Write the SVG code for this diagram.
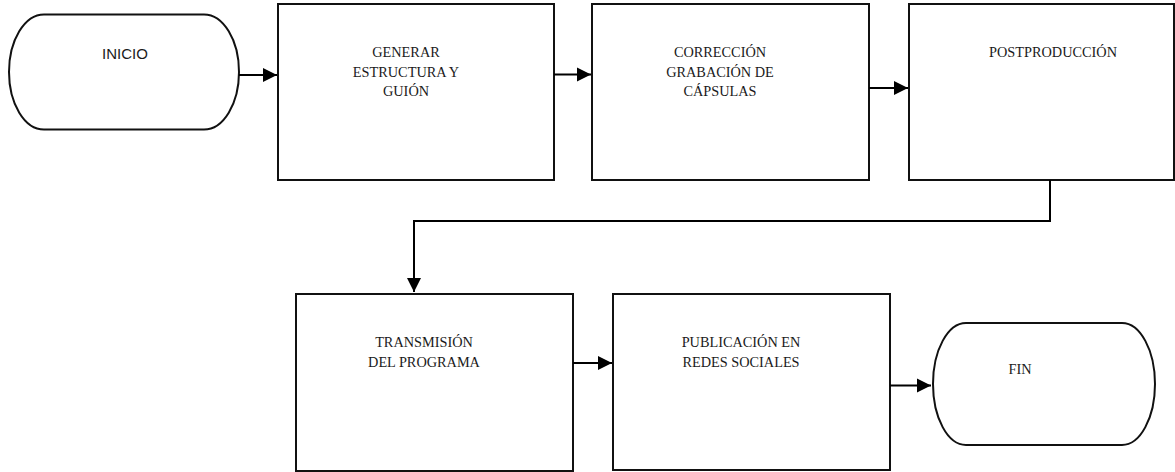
<svg xmlns="http://www.w3.org/2000/svg" width="1175" height="472" viewBox="0 0 1175 472">
<defs>
<marker id="arr" markerWidth="8" markerHeight="8" refX="7" refY="4" orient="auto" markerUnits="strokeWidth">
<path d="M0,0.5 L7,4 L0,7.5 Z" fill="#000"/>
</marker>
<style>
.box{fill:#fff;stroke:#111;stroke-width:2}
.term{fill:#fff;stroke:#111;stroke-width:2}
.lbl{font-family:"Liberation Serif","Times New Roman",serif;font-size:14.3px;fill:#1a1a1a;text-anchor:middle}
.sans{font-family:"Liberation Sans",Arial,sans-serif;font-size:15px;fill:#1a1a1a;text-anchor:middle}
.con{fill:none;stroke:#000;stroke-width:2;marker-end:url(#arr)}
</style>
</defs>
<rect width="1175" height="472" fill="#fff"/>
<g id="inicio">
<path class="term" d="M44,14.5 H204 A35,57.5 0 0 1 204,129.5 H44 A35,57.5 0 0 1 44,14.5 Z"/>
<text class="sans" x="125" y="59">INICIO</text>
</g>
<g id="generar">
<rect class="box" x="278" y="4" width="276" height="176"/>
<text class="lbl" x="406" y="57">GENERAR</text>
<text class="lbl" x="406" y="77">ESTRUCTURA Y</text>
<text class="lbl" x="406" y="96">GUIÓN</text>
</g>
<g id="correccion">
<rect class="box" x="592" y="4" width="277" height="176"/>
<text class="lbl" x="720" y="57">CORRECCIÓN</text>
<text class="lbl" x="720" y="77">GRABACIÓN DE</text>
<text class="lbl" x="720" y="96">CÁPSULAS</text>
</g>
<g id="postproduccion">
<rect class="box" x="909" y="4" width="265" height="176"/>
<text class="lbl" x="1053" y="57">POSTPRODUCCIÓN</text>
</g>
<g id="transmision">
<rect class="box" x="296" y="294" width="277" height="177"/>
<text class="lbl" x="424" y="347">TRANSMISIÓN</text>
<text class="lbl" x="424" y="367">DEL PROGRAMA</text>
</g>
<g id="publicacion">
<rect class="box" x="613" y="294" width="277" height="176"/>
<text class="lbl" x="741" y="347">PUBLICACIÓN EN</text>
<text class="lbl" x="741" y="367">REDES SOCIALES</text>
</g>
<g id="fin">
<path class="term" d="M966,323 H1122 A33,61 0 0 1 1122,445 H966 A33,61 0 0 1 966,323 Z"/>
<text class="lbl" x="1020" y="374">FIN</text>
</g>
<g id="connectors">
<path class="con" d="M239,75 H277"/>
<path class="con" d="M554,74.5 H591"/>
<path class="con" d="M869,88 H908"/>
<path class="con" d="M1050,180 V221 H414 V292"/>
<path class="con" d="M573,363 H612"/>
<path class="con" d="M890,385.5 H931"/>
</g>
</svg>
